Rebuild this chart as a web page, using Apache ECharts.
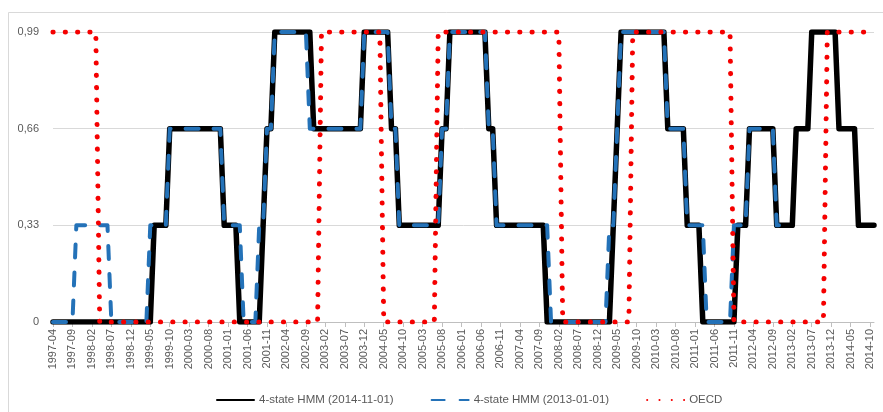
<!DOCTYPE html>
<html>
<head>
<meta charset="utf-8">
<script src="https://cdn.jsdelivr.net/npm/echarts@6.0.0/dist/echarts.min.js"></script>
<style>
	html, body { margin: 0; padding: 0; background: #fff; }
	#chart { width: 883px; height: 412px; }
</style>
</head>
<body>
<div id="chart"></div>
<script>
// monthly categories, 1997-04 .. 2014-11
var firstMonth = [1997, 4];
var lastMonth = [2014, 11];

var yTickLabels = ['0', '0,33', '0,66', '0,99'];

var seriesNames = ['4-state HMM (2014-11-01)', '4-state HMM (2013-01-01)', 'OECD'];

// one row per year (1997 starts in April)
var hmm20141101 = [
	0, 0, 0, 0, 0, 0, 0, 0, 0,
	0, 0, 0, 0, 0, 0, 0, 0, 0, 0, 0, 0,
	0, 0, 0, 0, 0, 0.33, 0.33, 0.33, 0.33, 0.66, 0.66, 0.66,
	0.66, 0.66, 0.66, 0.66, 0.66, 0.66, 0.66, 0.66, 0.66, 0.66, 0.66, 0.33,
	0.33, 0.33, 0.33, 0, 0, 0, 0, 0, 0, 0.33, 0.66, 0.66,
	0.99, 0.99, 0.99, 0.99, 0.99, 0.99, 0.99, 0.99, 0.99, 0.99, 0.66, 0.66,
	0.66, 0.66, 0.66, 0.66, 0.66, 0.66, 0.66, 0.66, 0.66, 0.66, 0.66, 0.99,
	0.99, 0.99, 0.99, 0.99, 0.99, 0.99, 0.66, 0.66, 0.33, 0.33, 0.33, 0.33,
	0.33, 0.33, 0.33, 0.33, 0.33, 0.33, 0.33, 0.66, 0.66, 0.99, 0.99, 0.99,
	0.99, 0.99, 0.99, 0.99, 0.99, 0.99, 0.99, 0.66, 0.66, 0.33, 0.33, 0.33,
	0.33, 0.33, 0.33, 0.33, 0.33, 0.33, 0.33, 0.33, 0.33, 0.33, 0, 0,
	0, 0, 0, 0, 0, 0, 0, 0, 0, 0, 0, 0,
	0, 0, 0, 0.33, 0.66, 0.99, 0.99, 0.99, 0.99, 0.99, 0.99, 0.99,
	0.99, 0.99, 0.99, 0.99, 0.99, 0.66, 0.66, 0.66, 0.66, 0.66, 0.33, 0.33,
	0.33, 0.33, 0, 0, 0, 0, 0, 0, 0, 0, 0, 0.33,
	0.33, 0.33, 0.66, 0.66, 0.66, 0.66, 0.66, 0.66, 0.66, 0.33, 0.33, 0.33,
	0.33, 0.33, 0.66, 0.66, 0.66, 0.66, 0.99, 0.99, 0.99, 0.99, 0.99, 0.99,
	0.99, 0.66, 0.66, 0.66, 0.66, 0.66, 0.33, 0.33, 0.33, 0.33, 0.33
];

var hmm20130101 = [
	0, 0, 0, 0, 0, 0, 0.33, 0.33, 0.33,
	0.33, 0.33, 0.33, 0.33, 0.33, 0.33, 0, 0, 0, 0, 0, 0,
	0, 0, 0, 0, 0.33, 0.33, 0.33, 0.33, 0.33, 0.66, 0.66, 0.66,
	0.66, 0.66, 0.66, 0.66, 0.66, 0.66, 0.66, 0.66, 0.66, 0.66, 0.66, 0.33,
	0.33, 0.33, 0.33, 0.33, 0, 0, 0, 0, 0.33, 0.33, 0.66, 0.66,
	0.99, 0.99, 0.99, 0.99, 0.99, 0.99, 0.99, 0.99, 0.99, 0.66, 0.66, 0.66,
	0.66, 0.66, 0.66, 0.66, 0.66, 0.66, 0.66, 0.66, 0.66, 0.66, 0.66, 0.99,
	0.99, 0.99, 0.99, 0.99, 0.99, 0.99, 0.66, 0.66, 0.33, 0.33, 0.33, 0.33,
	0.33, 0.33, 0.33, 0.33, 0.33, 0.33, 0.33, 0.66, 0.66, 0.99, 0.99, 0.99,
	0.99, 0.99, 0.99, 0.99, 0.99, 0.99, 0.99, 0.66, 0.66, 0.33, 0.33, 0.33,
	0.33, 0.33, 0.33, 0.33, 0.33, 0.33, 0.33, 0.33, 0.33, 0.33, 0.33, 0,
	0, 0, 0, 0, 0, 0, 0, 0, 0, 0, 0, 0,
	0, 0, 0.33, 0.33, 0.66, 0.99, 0.99, 0.99, 0.99, 0.99, 0.99, 0.99,
	0.99, 0.99, 0.99, 0.99, 0.99, 0.66, 0.66, 0.66, 0.66, 0.66, 0.33, 0.33,
	0.33, 0.33, 0.33, 0, 0, 0, 0, 0, 0, 0, 0.33, 0.33,
	0.33, 0.33, 0.66, 0.66, 0.66, 0.66, 0.66, 0.66, 0.66, 0.33, 0.33, 0.33,
	0.33
];

var oecd = [
	0.99, 0.99, 0.99, 0.99, 0.99, 0.99, 0.99, 0.99, 0.99,
	0.99, 0.99, 0.99, 0, 0, 0, 0, 0, 0, 0, 0, 0,
	0, 0, 0, 0, 0, 0, 0, 0, 0, 0, 0, 0,
	0, 0, 0, 0, 0, 0, 0, 0, 0, 0, 0, 0,
	0, 0, 0, 0, 0, 0, 0, 0, 0, 0, 0, 0,
	0, 0, 0, 0, 0, 0, 0, 0, 0, 0, 0, 0,
	0.99, 0.99, 0.99, 0.99, 0.99, 0.99, 0.99, 0.99, 0.99, 0.99, 0.99, 0.99,
	0.99, 0.99, 0.99, 0.99, 0, 0, 0, 0, 0, 0, 0, 0,
	0, 0, 0, 0, 0, 0, 0.99, 0.99, 0.99, 0.99, 0.99, 0.99,
	0.99, 0.99, 0.99, 0.99, 0.99, 0.99, 0.99, 0.99, 0.99, 0.99, 0.99, 0.99,
	0.99, 0.99, 0.99, 0.99, 0.99, 0.99, 0.99, 0.99, 0.99, 0.99, 0.99, 0.99,
	0.99, 0.99, 0, 0, 0, 0, 0, 0, 0, 0, 0, 0,
	0, 0, 0, 0, 0, 0, 0, 0, 0.99, 0.99, 0.99, 0.99,
	0.99, 0.99, 0.99, 0.99, 0.99, 0.99, 0.99, 0.99, 0.99, 0.99, 0.99, 0.99,
	0.99, 0.99, 0.99, 0.99, 0.99, 0.99, 0.99, 0.99, 0.99, 0.99, 0, 0,
	0, 0, 0, 0, 0, 0, 0, 0, 0, 0, 0, 0,
	0, 0, 0, 0, 0, 0, 0, 0, 0, 0, 0.99, 0.99,
	0.99, 0.99, 0.99, 0.99, 0.99, 0.99, 0.99, 0.99, 0.99
];

function monthLabels(from, to)
{
	var labels = [];
	var y = from[0], m = from[1];
	while (y < to[0] || (y === to[0] && m <= to[1]))
	{
		labels.push(y + '-' + (m < 10 ? '0' + m : '' + m));
		m++;
		if (m > 12) { m = 1; y++; }
	}
	return labels;
}

var categories = monthLabels(firstMonth, lastMonth);

var font = 'Liberation Sans';
var grey = '#595959';

var chart = echarts.init(document.getElementById('chart'), null, { renderer: 'canvas' });

var options =
{
	animation: false,
	backgroundColor: '#fff',
	graphic: [
		{
			type: 'rect',
			silent: true,
			shape: { x: 8.5, y: 12.5, width: 900, height: 420 },
			style: { fill: 'none', stroke: '#d9d9d9', lineWidth: 1 }
		}
	],
	grid: { left: 53, right: 9, top: 32, bottom: 90 },
	legend: {
		data: seriesNames,
		left: 211,
		top: 389,
		itemWidth: 37,
		itemHeight: 14,
		itemGap: 37,
		itemStyle: { opacity: 0 },
		textStyle: { color: grey, fontSize: 11.5, fontFamily: font }
	},
	xAxis: {
		type: 'category',
		boundaryGap: false,
		data: categories,
		axisLine: { lineStyle: { color: '#bfbfbf', width: 1 } },
		axisTick: { interval: 4, length: 5, lineStyle: { color: '#bfbfbf' } },
		axisLabel: { interval: 4, rotate: 90, margin: 7, color: grey, fontSize: 11, fontFamily: font },
		splitLine: { show: false }
	},
	yAxis: {
		type: 'value',
		min: 0,
		max: 0.99,
		interval: 0.33,
		axisLine: { show: false },
		axisTick: { show: false },
		axisLabel: {
			margin: 14,
			color: grey,
			fontSize: 11,
			fontFamily: font,
			formatter: function(v, i) { return yTickLabels[i]; }
		},
		splitLine: { lineStyle: { color: '#d9d9d9', width: 1 } }
	},
	series: [
		{
			name: seriesNames[0],
			type: 'line',
			data: hmm20141101,
			symbol: 'none',
			lineStyle: { color: '#000', width: 5.5, cap: 'round', join: 'round' },
			itemStyle: { color: '#000' }
		},
		{
			name: seriesNames[1],
			type: 'line',
			data: hmm20130101,
			symbol: 'none',
			lineStyle: { color: '#2472b8', width: 4, type: [13, 15], cap: 'round', join: 'round' },
			itemStyle: { color: '#2472b8' }
		},
		{
			name: seriesNames[2],
			type: 'line',
			data: oecd,
			symbol: 'none',
			lineStyle: { color: '#f50000', width: 5, type: [0.1, 12.2], cap: 'round', join: 'round' },
			itemStyle: { color: '#f50000' }
		}
	]
};

chart.setOption(options);
</script>
</body>
</html>
